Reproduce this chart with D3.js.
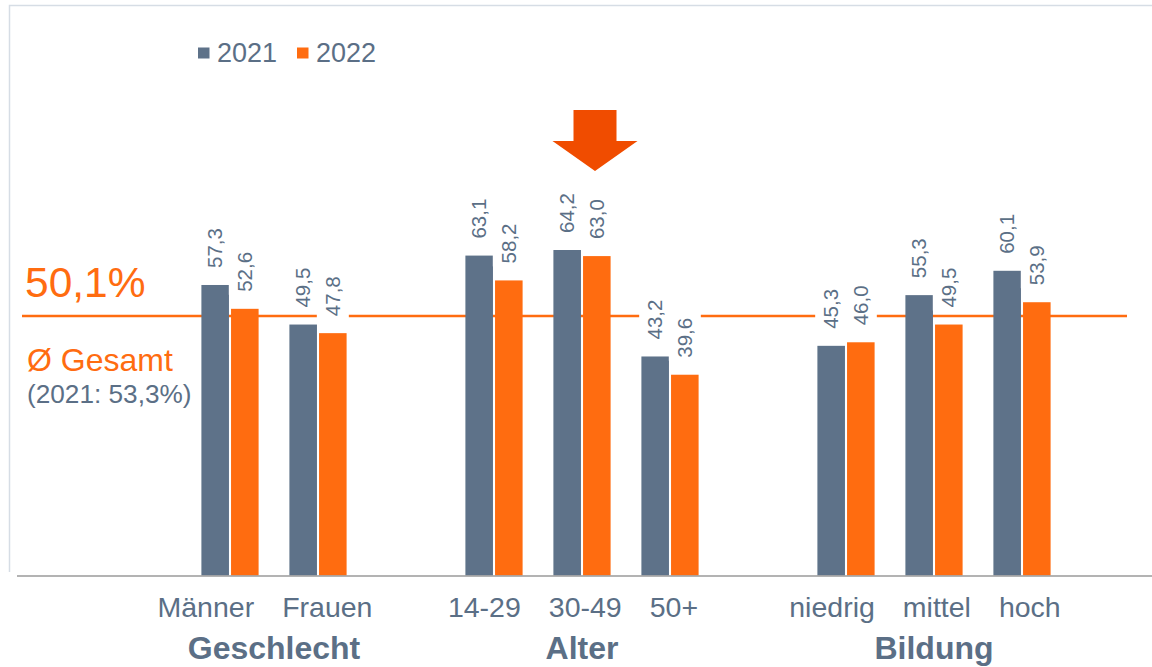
<!DOCTYPE html>
<html>
<head>
<meta charset="utf-8">
<script src="https://cdn.jsdelivr.net/npm/d3@7"></script>
<style>
  html, body { margin: 0; padding: 0; background: #fff; }
  svg { display: block; font-family: "Liberation Sans", Arial, sans-serif; }
</style>
</head>
<body>
<svg id="chart" width="1152" height="667"></svg>
<script>
// ---- data ----
const categories = ["Männer", "Frauen", "14-29", "30-49", "50+", "niedrig", "mittel", "hoch"];
const categoryGroup = ["Geschlecht", "Geschlecht", "Alter", "Alter", "Alter", "Bildung", "Bildung", "Bildung"];
const groupNames = ["Geschlecht", "Alter", "Bildung"];
const series = ["2021", "2022"];
const values2021 = [57.3, 49.5, 63.1, 64.2, 43.2, 45.3, 55.3, 60.1];
const values2022 = [52.6, 47.8, 58.2, 63.0, 39.6, 46.0, 49.5, 53.9];
const seriesColors = ["#5e7289", "#ff6c10"];
const totalLabel = "50,1%";
const totalTitle = "Ø Gesamt";
const totalPrev = "(2021: 53,3%)";
const avgLineLevel = 51.2;          // drawn level of the average line as in the picture
const highlightCategory = "30-49";

const seriesValues = [values2021, values2022];
const textGrey = "#5b6f86";
const orange = "#ff6c10";

const svg = d3.select("#chart");

// frame
svg.append("path")
  .attr("d", "M9.5,572 L9.5,5.5 L1152,5.5")
  .attr("fill", "none").attr("stroke", "#d6dde5").attr("stroke-width", 1.5);

// x domain with spacer slots
const domain = ["_pad0", "_pad1"];
groupNames.forEach((g, gi) => {
  if (gi > 0) domain.push("_gap" + gi);
  categories.forEach((c, j) => { if (categoryGroup[j] === g) domain.push(c); });
});
domain.push("_pad2");

const x = d3.scaleBand().domain(domain).range([10, 1154]).padding(0);
const pairW = x.bandwidth() * 0.65;
const x1 = d3.scaleBand().domain(series).range([0, pairW]).paddingInner(0.07);
const y = d3.scaleLinear().domain([0, 100]).range([575.5, 68.5]);

const cx = c => x(c) + x.bandwidth() / 2;
const barX = (c, s) => x(c) + (x.bandwidth() - pairW) / 2 + x1(s);
const groupCats = g => categories.filter((c, j) => categoryGroup[j] === g);
const groupCenter = g => { const cs = groupCats(g); return (cx(cs[0]) + cx(cs[cs.length - 1])) / 2; };

// average line
svg.append("line")
  .attr("x1", 22).attr("x2", 1127)
  .attr("y1", y(avgLineLevel)).attr("y2", y(avgLineLevel))
  .attr("stroke", orange).attr("stroke-width", 2.5);

// bars
const barData = [];
categories.forEach((c, i) => {
  series.forEach((s, si) => barData.push({ c, s, si, v: seriesValues[si][i] }));
});

svg.append("g").selectAll("rect").data(barData).join("rect")
  .attr("x", d => barX(d.c, d.s))
  .attr("width", x1.bandwidth())
  .attr("y", d => y(d.v))
  .attr("height", d => y(0) - y(d.v))
  .attr("fill", d => seriesColors[d.si]);

// value labels with white boxes
const fmt = v => d3.format(".1f")(v).replace(".", ",");
const lblG = svg.append("g");
barData.forEach(d => {
  const bx = barX(d.c, d.s) + x1.bandwidth() / 2;
  const by = y(d.v) - 17;
  const box = lblG.append("rect").attr("fill", "#fff");
  const t = lblG.append("text")
    .attr("transform", `translate(${bx},${by}) rotate(-90)`)
    .attr("dy", "0.35em")
    .attr("text-anchor", "start")
    .attr("font-size", 20.5)
    .attr("fill", textGrey)
    .text(fmt(d.v));
  const len = t.node().getComputedTextLength();
  box.attr("x", bx - 16).attr("width", 32)
    .attr("y", by - len - 6).attr("height", len + 9);
  t.raise();
});

// baseline
svg.append("line")
  .attr("x1", 17).attr("x2", 1152)
  .attr("y1", y(0) + 0.5).attr("y2", y(0) + 0.5)
  .attr("stroke", "#9a9a9a").attr("stroke-width", 1.5);

// category labels: laid out as one row per group, centred under the group
const catG = svg.append("g");
const rowGap = 28;
groupNames.forEach(g => {
  const cs = groupCats(g);
  const texts = cs.map(c => catG.append("text")
    .attr("y", 617)
    .attr("font-size", 28.5)
    .attr("fill", textGrey)
    .text(c));
  const widths = texts.map(t => t.node().getComputedTextLength());
  const total = d3.sum(widths) + rowGap * (cs.length - 1);
  let pos = groupCenter(g) - 9 - total / 2;
  texts.forEach((t, k) => { t.attr("x", pos); pos += widths[k] + rowGap; });
});

// group labels
svg.append("g").selectAll("text").data(groupNames).join("text")
  .attr("x", g => groupCenter(g))
  .attr("y", 659)
  .attr("text-anchor", "middle")
  .attr("font-size", 32)
  .attr("font-weight", "bold")
  .attr("fill", textGrey)
  .text(g => g);

// legend
const leg = svg.append("g");
const legX = [198, 297];
series.forEach((s, si) => {
  leg.append("rect").attr("x", legX[si]).attr("y", 47.5).attr("width", 11.5).attr("height", 11)
    .attr("fill", seriesColors[si]);
  leg.append("text").attr("x", legX[si] + 19).attr("y", 62)
    .attr("font-size", 27).attr("fill", textGrey).text(s);
});

// total annotation
svg.append("text").attr("x", 25).attr("y", 296.5)
  .attr("font-size", 42.5).attr("fill", orange).text(totalLabel);
svg.append("text").attr("x", 27).attr("y", 371)
  .attr("font-size", 32).attr("fill", orange).text(totalTitle);
svg.append("text").attr("x", 27).attr("y", 403)
  .attr("font-size", 26.2).attr("fill", textGrey).text(totalPrev);

// highlight arrow
const ax = cx(highlightCategory) + 13;
svg.append("path")
  .attr("d", `M${ax - 21.5},110 L${ax + 21.5},110 L${ax + 21.5},141 L${ax + 42.5},141 L${ax},171 L${ax - 42.5},141 L${ax - 21.5},141 Z`)
  .attr("fill", "#f04c00");
</script>
</body>
</html>
